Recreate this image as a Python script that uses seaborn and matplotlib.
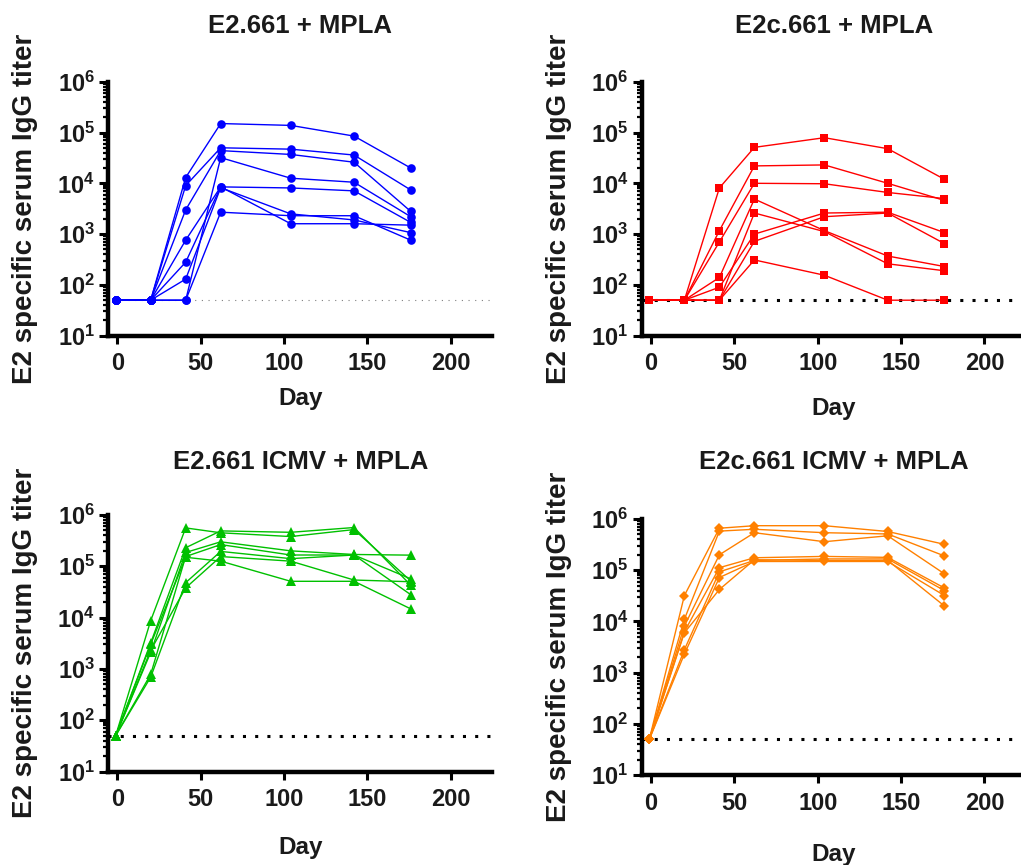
import numpy as np
import pandas as pd
import matplotlib.pyplot as plt
import matplotlib.ticker as mticker
import seaborn as sns

sns.set_theme(style="ticks")
plt.rcParams["font.family"] = ["Liberation Sans", "DejaVu Sans"]
plt.rcParams["font.weight"] = "bold"
plt.rcParams["mathtext.fontset"] = "custom"
plt.rcParams["mathtext.rm"] = "Liberation Sans:bold"
plt.rcParams["mathtext.it"] = "Liberation Sans:bold"
plt.rcParams["mathtext.bf"] = "Liberation Sans:bold"

days = [-1, 20, 41, 62, 104, 142, 176]
detection_limit = 50

# one row per mouse, titers at each day
e2_mpla = [
    [50, 50, 13000, 150000, 138000, 85000, 20000],
    [50, 50, 9000, 50000, 47000, 36000, 7400],
    [50, 50, 3000, 44000, 37000, 26000, 2800],
    [50, 50, 50, 32000, 12600, 10500, 2200],
    [50, 50, 760, 8500, 8100, 7100, 1700],
    [50, 50, 280, 8500, 1600, 1600, 1500],
    [50, 50, 130, 8200, 2500, 1900, 1070],
    [50, 50, 50, 2700, 2300, 2300, 760],
]
e2c_mpla = [
    [50, 50, 8100, 51000, 79000, 48000, 12000],
    [50, 50, 1170, 22000, 23000, 10000, 4600],
    [50, 50, 700, 10000, 9800, 6600, 5000],
    [50, 50, 140, 4900, 1170, 370, 230],
    [50, 50, 50, 2600, 1120, 260, 190],
    [50, 50, 90, 1000, 2600, 2700, 1070],
    [50, 50, 50, 720, 2200, 2600, 650],
    [50, 50, 50, 310, 155, 50, 50],
]
e2_icmv = [
    [50, 8700, 560000, 450000, 380000, 520000, 52000],
    [50, 3200, 230000, 490000, 460000, 570000, 43000],
    [50, 2100, 186000, 300000, 200000, 170000, 165000],
    [50, 780, 155000, 265000, 166000, 166000, 57000],
    [50, 690, 48000, 195000, 141000, 166000, 28000],
    [50, 2300, 38000, 155000, 126000, 54000, 50000],
    [50, 3000, 150000, 126000, 51000, 51000, 14800],
]
e2c_icmv = [
    [50, 32000, 660000, 740000, 740000, 570000, 320000],
    [50, 11000, 580000, 630000, 540000, 510000, 190000],
    [50, 8100, 200000, 540000, 360000, 470000, 85000],
    [50, 6300, 112000, 175000, 186000, 178000, 45000],
    [50, 2800, 93000, 155000, 166000, 166000, 40000],
    [50, 2300, 72000, 148000, 148000, 148000, 32000],
    [50, 6000, 42000, 160000, 155000, 155000, 20000],
]

titles = ["E2.661 + MPLA", "E2c.661 + MPLA", "E2.661 ICMV + MPLA", "E2c.661 ICMV + MPLA"]
groups = [e2_mpla, e2c_mpla, e2_icmv, e2c_icmv]
colors = ["#0000FF", "#FF0000", "#00C000", "#FF8000"]
markers = ["o", "s", "^", "D"]
marker_sizes = [6.2, 5.8, 6.8, 5.2]

W, H = 1021, 865
fig = plt.figure(figsize=(W / 100, H / 100), dpi=100)

# panel boxes in pixels: left spine, top (10^6), bottom (10^1)
boxes = [(108, 81.7, 335.7), (641.7, 81.7, 335.7), (108, 515, 771.5), (641.7, 519, 775)]
ax_w = 384.4
title_pads = [35, 35, 33, 36]
day_label_y = [-0.202, -0.241, -0.251, -0.266]

for i in range(4):
    left, top, bottom = boxes[i]
    ax = fig.add_axes([left / W, 1 - bottom / H, ax_w / W, (bottom - top) / H])

    df = pd.DataFrame(
        [(d, t, m) for m, row in enumerate(groups[i]) for d, t in zip(days, row)],
        columns=["day", "titer", "mouse"],
    )

    # detection limit line
    if i == 0:
        ax.axhline(detection_limit, color="#808080", lw=0.8, ls=(0, (1, 5)), zorder=1)
    else:
        ax.axhline(detection_limit, color="black", lw=2.2, ls=(0, (1, 3)), zorder=1)

    sns.lineplot(data=df, x="day", y="titer", units="mouse", estimator=None,
                 color=colors[i], marker=markers[i], markersize=marker_sizes[i],
                 markeredgecolor=colors[i], markeredgewidth=0, linewidth=1.0,
                 ax=ax, zorder=3)

    ax.set_yscale("log")
    ax.set_ylim(10, 1e6)
    ax.set_xlim(-5.6, 225)
    ax.set_xticks([0, 50, 100, 150, 200])
    ax.yaxis.set_major_locator(mticker.LogLocator(base=10, numticks=10))
    ax.yaxis.set_minor_locator(mticker.LogLocator(base=10, subs=np.arange(2, 10), numticks=20))
    ax.yaxis.set_major_formatter(mticker.FuncFormatter(lambda v, p: r"$10^{%d}$" % round(np.log10(v))))
    ax.yaxis.set_minor_formatter(mticker.NullFormatter())

    sns.despine(ax=ax)
    for s in ["left", "bottom"]:
        ax.spines[s].set_linewidth(3.2)
        ax.spines[s].set_color("black")

    ax.tick_params(axis="x", which="major", direction="out", length=6, width=2.2,
                   labelsize=17, pad=6, color="black", labelcolor="#1a1a1a")
    ax.tick_params(axis="y", which="major", direction="out", length=6.5, width=2.2,
                   labelsize=17, pad=3, color="black", labelcolor="#1a1a1a")
    ax.tick_params(axis="y", which="minor", direction="out", length=3.8, width=1.6, color="black")

    ax.set_title(titles[i], fontsize=18.5, fontweight="bold", pad=title_pads[i], color="#1a1a1a")
    ax.set_xlabel("Day", fontsize=17.5, fontweight="bold", color="#1a1a1a")
    ax.set_ylabel("E2 specific serum IgG titer", fontsize=20, fontweight="bold", color="#1a1a1a")
    ax.xaxis.set_label_coords(0.5, day_label_y[i])
    ax.yaxis.set_label_coords(-70 / ax_w, 0.5)

fig.savefig("out.png", dpi=100)
